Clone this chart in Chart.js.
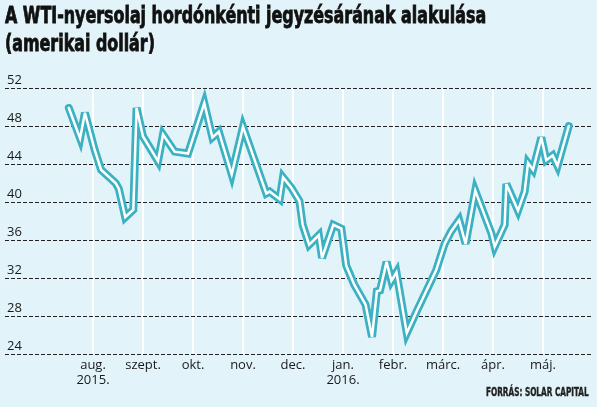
<!DOCTYPE html>
<html>
<head>
<meta charset="utf-8">
<script src="https://cdn.jsdelivr.net/npm/chart.js@4.4.1/dist/chart.umd.min.js"></script>
<style>
  body { margin: 0; background: #e2f4fa; }
  #wrap { position: relative; width: 597px; height: 407px; background: #e2f4fa; overflow: hidden; }
  #title {
    position: absolute; left: 5px; top: 1px;
    font-family: "DejaVu Sans", sans-serif; font-stretch: condensed;
    font-weight: bold; font-size: 23px; line-height: 28px; color: #111;
    -webkit-text-stroke: 0.8px #111;
    white-space: nowrap; transform-origin: 0 0;
  }
  #source {
    position: absolute; left: 486px; top: 385px;
    font-family: "DejaVu Sans", sans-serif; font-stretch: condensed;
    font-weight: bold; font-size: 12px; line-height: 14px; color: #222;
    -webkit-text-stroke: 0.4px #222;
    white-space: nowrap; transform-origin: 0 0;
  }
  canvas { position: absolute; left: 0; top: 0; }
</style>
</head>
<body>
<div id="wrap">
  <canvas id="wti" width="597" height="407"></canvas>
  <div id="title">A WTI-nyersolaj hordónkénti jegyzésárának alakulása<br>(amerikai dollár)</div>
  <div id="source">FORRÁS: SOLAR CAPITAL</div>
</div>
<script>
// árfolyam pontok (dátum, dollár/hordó)
var dates = [
  "2015-07-17", "2015-07-24", "2015-07-27", "2015-08-02", "2015-08-06", "2015-08-15",
  "2015-08-17", "2015-08-21", "2015-08-26", "2015-08-28", "2015-09-01", "2015-09-10",
  "2015-09-13", "2015-09-20", "2015-09-28", "2015-10-08", "2015-10-13", "2015-10-17",
  "2015-10-25", "2015-11-01", "2015-11-15", "2015-11-17", "2015-11-23", "2015-11-25",
  "2015-11-30", "2015-12-05", "2015-12-07", "2015-12-11", "2015-12-17", "2015-12-19",
  "2015-12-26", "2015-12-31", "2016-01-03", "2016-01-08", "2016-01-15", "2016-01-19",
  "2016-01-22", "2016-01-24", "2016-01-28", "2016-01-31", "2016-02-03", "2016-02-09",
  "2016-02-15", "2016-02-26", "2016-03-02", "2016-03-06", "2016-03-11", "2016-03-15",
  "2016-03-21", "2016-03-31", "2016-04-02", "2016-04-08", "2016-04-09", "2016-04-16",
  "2016-04-20", "2016-04-22", "2016-04-25", "2016-04-30", "2016-05-03", "2016-05-07",
  "2016-05-10", "2016-05-17"
];
var prices = [
  49.9, 46.7, 49.4, 45.5, 43.4, 42.0,
  41.4, 38.4, 39.2, 49.9, 46.9, 44.3,
  47.1, 45.3, 45.1, 50.4, 46.8, 47.4,
  42.9, 47.9, 40.9, 41.1, 40.3, 42.6,
  41.5, 40.1, 37.6, 35.5, 36.5, 34.1,
  37.6, 37.2, 33.3, 31.3, 29.2, 25.8,
  30.6, 30.7, 33.7, 31.7, 32.6, 26.2,
  28.6, 32.8, 35.6, 36.9, 38.1, 35.6,
  41.2, 36.7, 35.3, 37.6, 41.9, 39.1,
  41.1, 44.1, 43.4, 46.8, 44.4, 44.9,
  43.8, 48.0
];
var monthLabels = [["aug.", "2015."], "szept.", "okt.", "nov.", "dec.", ["jan.", "2016."], "febr.", "márc.", "ápr.", "máj."];
var yTicks = [24, 28, 32, 36, 40, 44, 48, 52];

// keskeny betű: a szöveget a kívánt szélességre nyomjuk össze
function squeeze(id, w) {
    var el = document.getElementById(id);
    el.style.transform = "scaleX(" + (w / el.offsetWidth) + ")";
}
squeeze("title", 481);
squeeze("source", 103);

// hónap-pozíció: 0 = 2015. aug. 1.
function monthPos(d) {
    var p = d.split("-").map(Number);
    var days = new Date(p[0], p[1], 0).getDate();
    return (p[0] - 2015) * 12 + (p[1] - 8) + (p[2] - 1) / days;
}

var points = dates.map(function (d, i) {
    return { x: monthPos(d), y: prices[i] };
});

var labelFont = { family: "'Open Sans', 'DejaVu Sans', sans-serif", size: 13 };

// rövidebb hegyes csúcsok a vastag vonalon
var miterPlugin = {
    id: "miter",
    beforeDatasetsDraw: function (c) { c.ctx.miterLimit = 4; },
};

var ctx = document.getElementById("wti").getContext("2d");
var chart = new Chart(ctx, {
    type: "line",
    data: {
        datasets: [
            {
                // fehér belső vonal (felül)
                data: points,
                borderColor: "#ffffff",
                borderWidth: 2.5,
                borderCapStyle: "round",
                borderJoinStyle: "miter",
                pointRadius: 0,
                tension: 0,
                clip: false,
                order: 0,
            },
            {
                // türkiz keret
                data: points,
                borderColor: "#3bb1c1",
                borderWidth: 8,
                borderCapStyle: "round",
                borderJoinStyle: "miter",
                pointRadius: 0,
                tension: 0,
                clip: false,
                order: 1,
            },
        ],
    },
    plugins: [miterPlugin],
    options: {
        responsive: false,
        animation: false,
        layout: { padding: { top: 88, left: 5, right: 4, bottom: 0 } },
        plugins: { legend: { display: false }, tooltip: { enabled: false } },
        scales: {
            x: {
                type: "linear",
                min: -1.76,
                max: 10,
                afterBuildTicks: function (s) {
                    s.ticks = monthLabels.map(function (_, i) { return { value: i }; });
                },
                afterFit: function (s) { s.height = 53; },
                grid: { color: "#ffffff", lineWidth: 2, drawTicks: false },
                border: { display: false },
                ticks: {
                    autoSkip: false,
                    maxRotation: 0,
                    padding: 3,
                    color: "#1a1a1a",
                    font: labelFont,
                    callback: function (v) { return monthLabels[v]; },
                },
            },
            y: {
                min: 24,
                max: 52,
                afterBuildTicks: function (s) {
                    s.ticks = yTicks.map(function (v) { return { value: v }; });
                },
                afterFit: function (s) { s.width = 0; },
                grid: { color: "#222", lineWidth: 1, drawTicks: false },
                border: { display: false, dash: [4, 2] },
                ticks: {
                    mirror: true,
                    padding: 2,
                    labelOffset: -8,
                    color: "#1a1a1a",
                    font: labelFont,
                },
            },
        },
    },
});
</script>
</body>
</html>
